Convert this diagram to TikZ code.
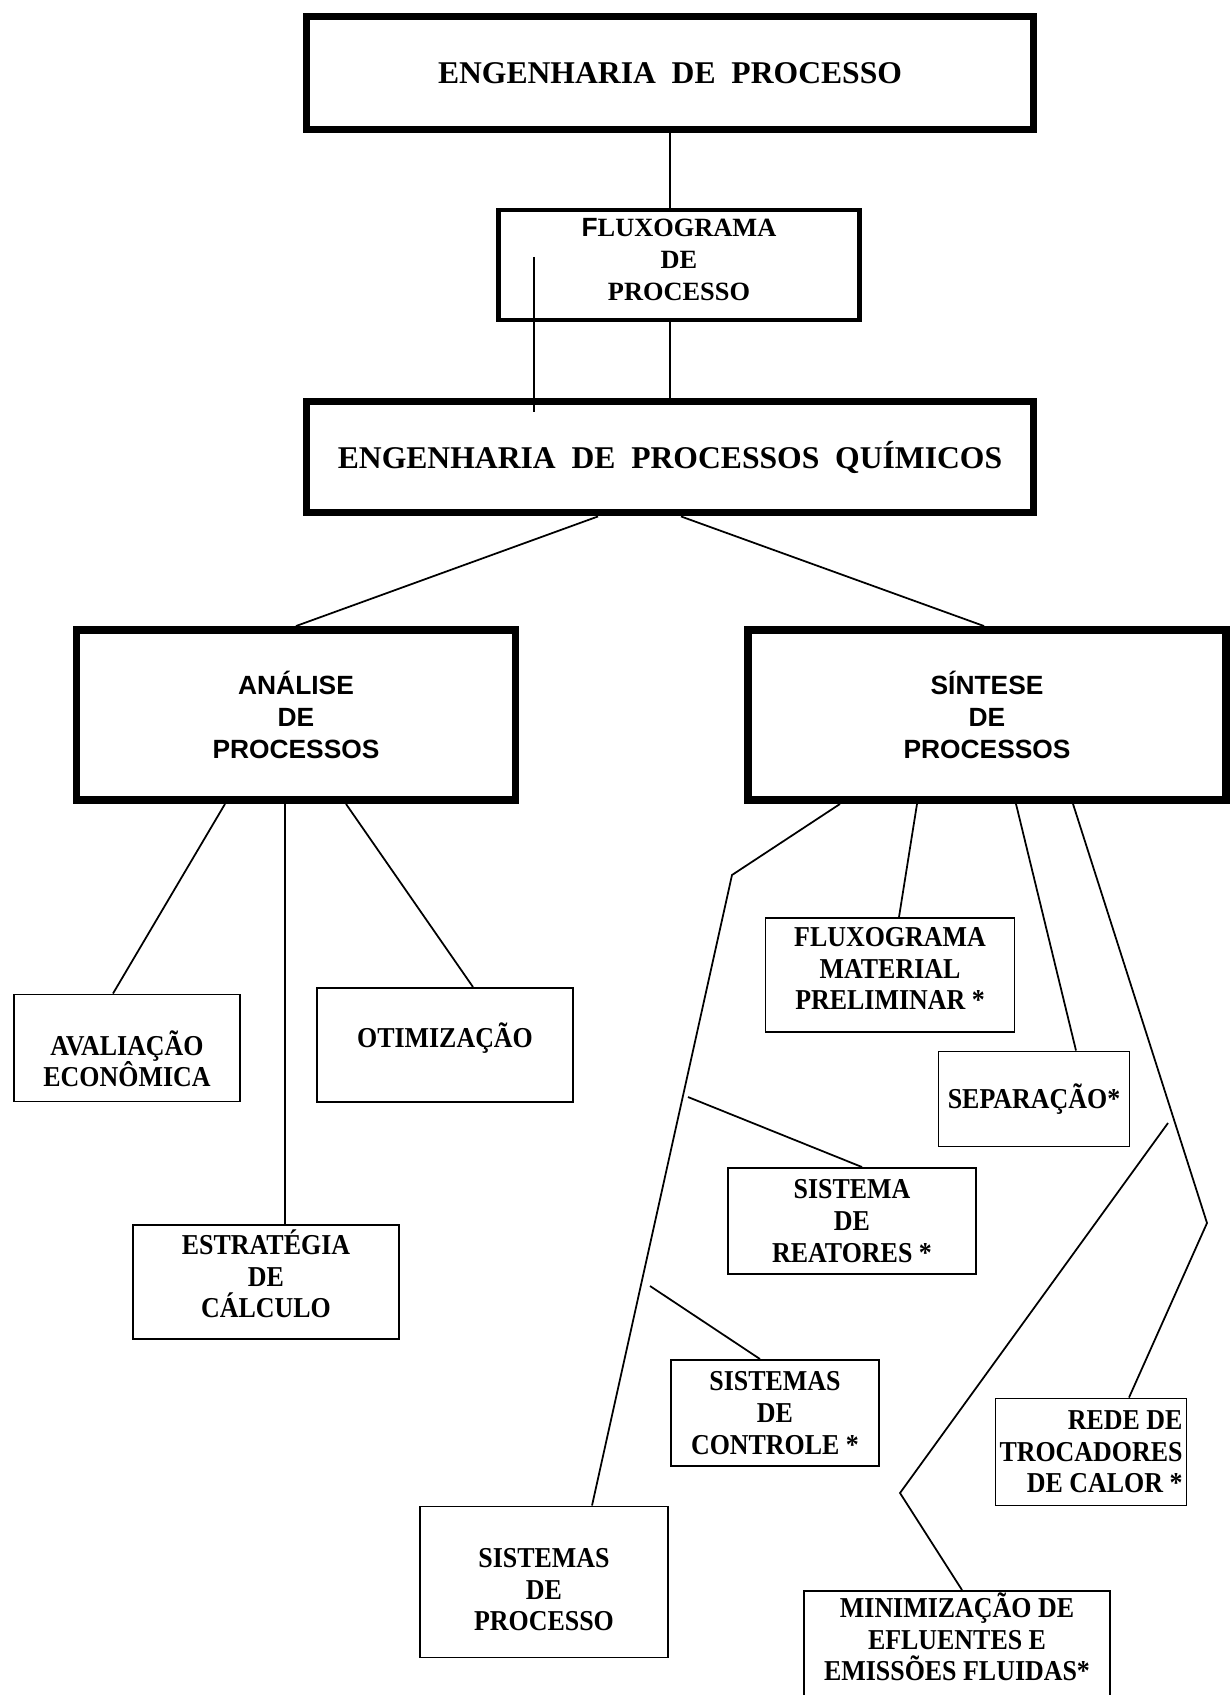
\documentclass[tikz,border=0pt]{standalone}
\usepackage{fontspec}
\setmainfont{Liberation Serif}
\newfontfamily\boxserif[FakeStretch=0.9]{Liberation Serif}
\newfontfamily\boxsans{Liberation Sans}

\begin{document}
\begin{tikzpicture}[
    mainbox/.style={
        draw, line width=4.5pt, inner sep=2pt, align=center,
        font=\bfseries\fontsize{18}{22}\selectfont,
    },
    flowbox/.style={
        draw, line width=2.8pt, inner sep=2pt, align=center,
        font=\bfseries\fontsize{15}{18}\selectfont,
    },
    groupbox/.style={
        draw, line width=4.5pt, inner sep=2pt, align=center,
        font=\boxsans\bfseries\fontsize{15}{18}\selectfont,
    },
    leaf/.style={
        draw, line width=1.1pt, inner sep=1pt, align=center,
        font=\boxserif\bfseries\fontsize{16.4}{18}\selectfont,
    },
    link/.style={line width=1pt},
]

\useasboundingbox (0,0) rectangle (24.62,-33.90);
\fill[white] (0,0) rectangle (24.62,-33.90);

% ── Top levels ──
\node[mainbox, minimum width=14.54cm, minimum height=2.26cm] (engproc) at (13.40,-1.46)
    {ENGENHARIA\ \ DE\ \ PROCESSO};
\node[flowbox, minimum width=7.22cm, minimum height=2.20cm, text height=40pt, text depth=0pt] (fluxproc) at (13.58,-5.30)
    {{\boxsans F}LUXOGRAMA\\DE\\PROCESSO};
\node[mainbox, minimum width=14.54cm, minimum height=2.22cm] (epq) at (13.40,-9.14)
    {ENGENHARIA\ \ DE\ \ PROCESSOS\ \ QUÍMICOS};

% ── Analysis / synthesis ──
\node[groupbox, minimum width=8.78cm, minimum height=3.40cm] (analise) at (5.92,-14.30)
    {ANÁLISE\\DE\\PROCESSOS};
\node[groupbox, minimum width=9.56cm, minimum height=3.40cm] (sintese) at (19.74,-14.30)
    {SÍNTESE\\DE\\PROCESSOS};

% ── Analysis branch ──
\node[leaf, minimum width=4.52cm, minimum height=2.14cm, text height=44pt, text depth=0pt] (avalia) at (2.54,-20.96)
    {AVALIAÇÃO\\ECONÔMICA};
\node[leaf, minimum width=5.12cm, minimum height=2.28cm, text height=14pt, text depth=10.6pt] (otimiza) at (8.90,-20.90)
    {OTIMIZAÇÃO};
\node[leaf, minimum width=5.32cm, minimum height=2.28cm, text height=40.6pt, text depth=0pt] (estrat) at (5.32,-25.64)
    {ESTRATÉGIA\\DE\\CÁLCULO};

% ── Synthesis branch ──
\node[leaf, minimum width=4.98cm, minimum height=2.28cm, text height=39.6pt, text depth=0pt] (fluxmat) at (17.80,-19.50)
    {FLUXOGRAMA\\MATERIAL\\PRELIMINAR *};
\node[leaf, minimum width=3.82cm, minimum height=1.90cm] (separa) at (20.68,-21.98)
    {SEPARAÇÃO*};
\node[leaf, minimum width=4.96cm, minimum height=2.12cm] (reatores) at (17.04,-24.42)
    {SISTEMA\\DE\\REATORES *};
\node[leaf, minimum width=4.16cm, minimum height=2.12cm] (controle) at (15.50,-28.26)
    {SISTEMAS\\DE\\CONTROLE *};
\node[leaf, minimum width=4.96cm, minimum height=3.02cm, text height=55.6pt, text depth=0pt] (sistproc) at (10.88,-31.64)
    {SISTEMAS\\DE\\PROCESSO};
\node[leaf, align=right, minimum width=3.82cm, minimum height=2.14cm] (trocador) at (21.82,-29.04)
    {REDE DE\\TROCADORES\\DE CALOR *};
\node[leaf, anchor=north, inner ysep=1pt, minimum width=6.12cm, text depth=2.3cm] (efluente) at (19.14,-31.80)
    {MINIMIZAÇÃO DE\\EFLUENTES E\\EMISSÕES FLUIDAS*};

% ── Bends and loose ends ──
\coordinate (stubtop) at (10.68,-5.14);
\coordinate (stubbot) at (10.68,-8.24);
\coordinate (bendproc) at (14.64,-17.50);
\coordinate (reatstart) at (13.76,-21.94);
\coordinate (ctrlstart) at (13.00,-25.72);
\coordinate (bendtroc) at (24.14,-24.46);
\coordinate (eflustart) at (23.36,-22.46);
\coordinate (bendeflu) at (18.00,-29.86);

% ── Connectors: top ──
\draw[link] (engproc.south) -- (engproc.south |- fluxproc.north);
\draw[link] (epq.north) -- (epq.north |- fluxproc.south);
\draw[link] (stubtop) -- (stubbot);
\draw[link] ([xshift=-1.44cm]epq.south) -- (analise.north);
\draw[link] ([xshift=0.22cm]epq.south) -- ([xshift=-0.06cm]sintese.north);

% ── Connectors: analysis ──
\draw[link] ([xshift=-1.42cm]analise.south) -- ([xshift=-0.28cm]avalia.north);
\draw[link] ([xshift=-0.22cm]analise.south) -- ([xshift=-0.22cm]analise.south |- estrat.north);
\draw[link] ([xshift=1.00cm]analise.south) -- ([xshift=0.56cm]otimiza.north);

% ── Connectors: synthesis ──
\draw[link] ([xshift=-2.94cm]sintese.south) -- (bendproc) -- ([xshift=0.96cm]sistproc.north);
\draw[link] (reatstart) -- ([xshift=0.20cm]reatores.north);
\draw[link] (ctrlstart) -- ([xshift=-0.30cm]controle.north);
\draw[link] ([xshift=-1.40cm]sintese.south) -- ([xshift=0.18cm]fluxmat.north);
\draw[link] ([xshift=0.58cm]sintese.south) -- ([xshift=0.84cm]separa.north);
\draw[link] ([xshift=1.72cm]sintese.south) -- (bendtroc) -- ([xshift=0.76cm]trocador.north);
\draw[link] (eflustart) -- (bendeflu) -- ([xshift=0.10cm]efluente.north);

\end{tikzpicture}
\end{document}
